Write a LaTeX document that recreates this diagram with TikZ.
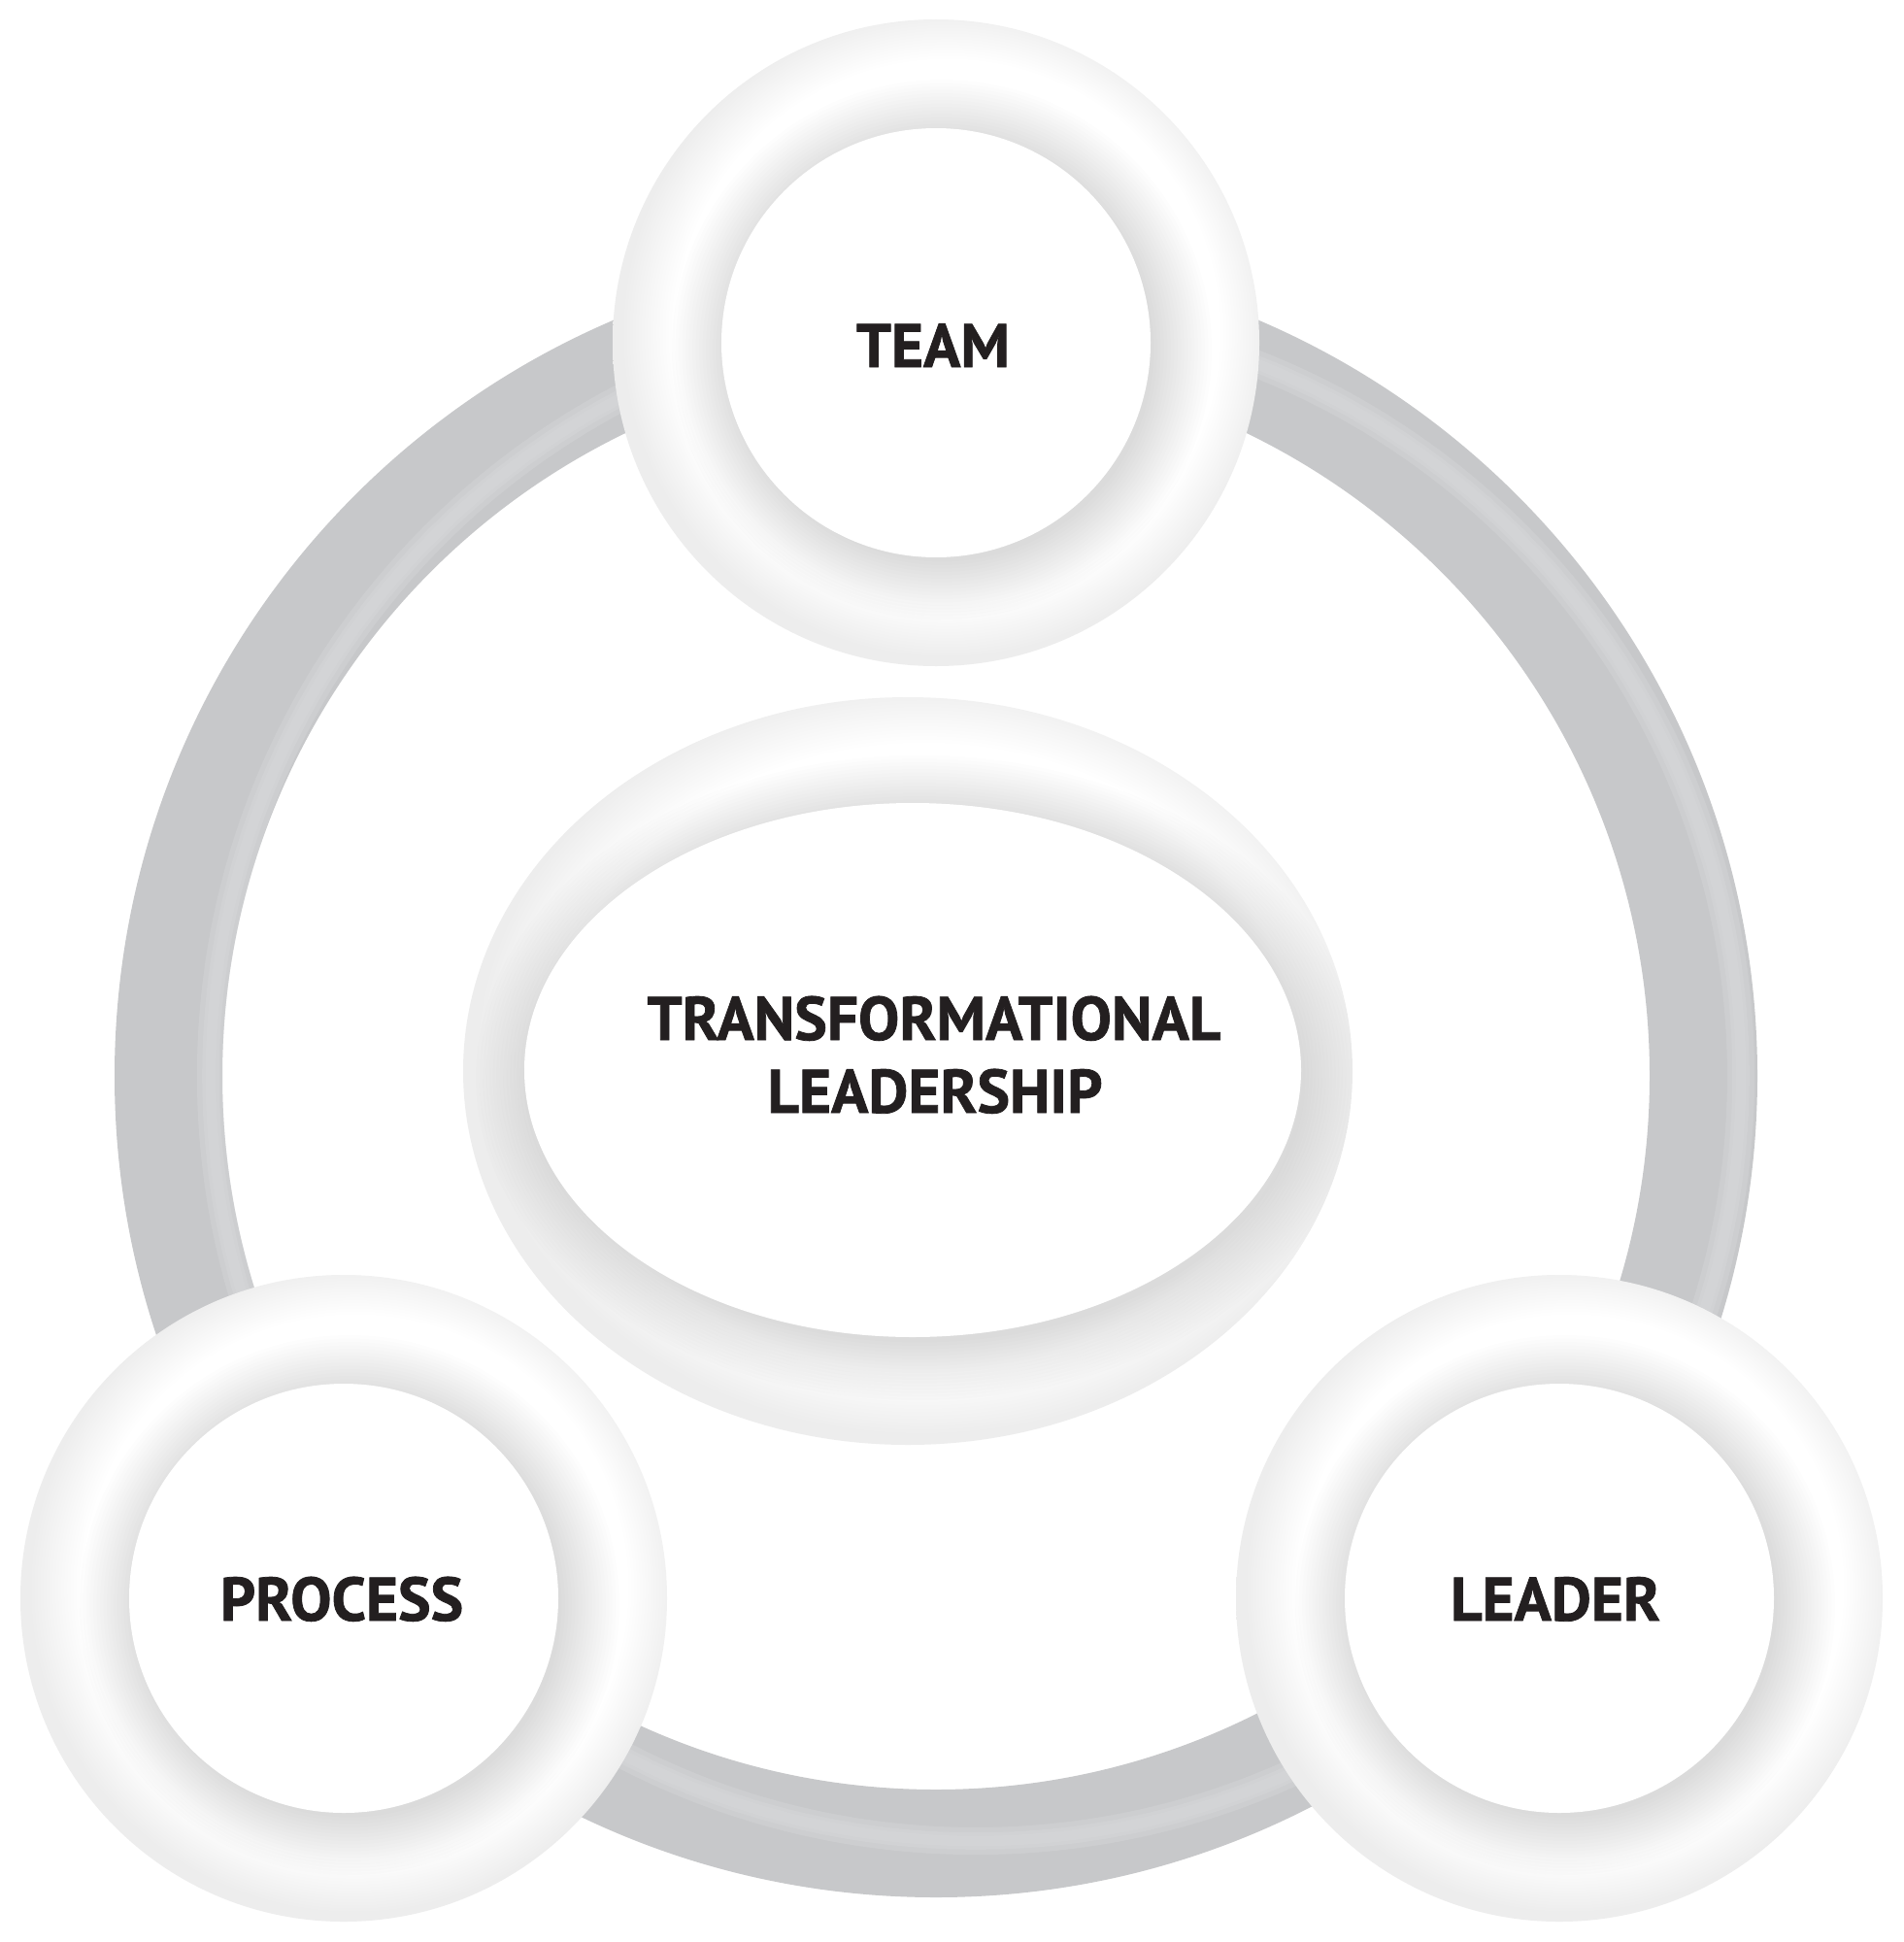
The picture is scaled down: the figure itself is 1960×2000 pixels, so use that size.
\documentclass[tikz,border=0pt]{standalone}
\usepackage{fontspec}
\setmainfont{PT Sans}[BoldFeatures={FakeBold=1.2}]
\usetikzlibrary{calc}
\definecolor{ringgray}{HTML}{C7C8CA}
\definecolor{ringhi}{HTML}{D9DADC}
\definecolor{txt}{HTML}{231F20}
\pgfdeclareradialshading{rimshade}{\pgfpoint{1.5bp}{1.5bp}}{color(0bp)=(white); color(21bp)=(white); color(25bp)=(black!7); color(50bp)=(black!7)}
\tikzset{
  lbl/.style={font=\bfseries\fontsize{18}{21}\selectfont, text=txt, anchor=base, inner sep=0pt},
  shadowlayer/.style={fill=black, fill opacity=0.0085},
  hilayer/.style={draw=ringhi, draw opacity=0.35},
}
\newcommand{\circdonut}[2]{%
  \shade[shading=rimshade] (#1,#2) circle[radius=333];
  \begin{scope}
    \clip (#1,#2) circle[radius=333];
    \foreach \i in {1,...,18}{\fill[shadowlayer] (#1+6,#2+7) circle[radius=215+3.5*\i];}
  \end{scope}
  \fill[white] (#1,#2) circle[radius=221];
}
\begin{document}
\begin{tikzpicture}[x=0.01cm,y=-0.01cm]
  \fill[white] (0,0) rectangle (1960,2000);
  \path[use as bounding box] (0,0) rectangle (1960,2000);
  % big grey ring
  \fill[ringgray, even odd rule] (964,1108) circle[radius=846] (964,1108) circle[radius=735];
  \begin{scope}[even odd rule]
    \clip (964,1108) circle[radius=846] (964,1108) circle[radius=735];
    \foreach \w in {8pt,5pt,3pt}{\draw[hilayer, line width=\w] (1005,1108) circle[radius=788];}
  \end{scope}
  % central ellipse
  \shade[shading=rimshade] (935,1103) ellipse[x radius=458, y radius=385];
  \begin{scope}
    \clip (935,1103) ellipse[x radius=458, y radius=385];
    \foreach \i in {1,...,18}{\fill[shadowlayer] (947,1110) ellipse[x radius=394+3.5*\i, y radius=269+3.5*\i];}
  \end{scope}
  \fill[white] (940,1102) ellipse[x radius=400, y radius=275];
  % satellite circles
  \circdonut{964}{353}
  \circdonut{354}{1646}
  \circdonut{1606}{1646}
  % labels
  \node[lbl] (team) at (961,378) {TEAM};
  \node[lbl] (tl1) at (962,1071) {TRANSFORMATIONAL};
  \node[lbl] (tl2) at (963,1146) {LEADERSHIP};
  \node[lbl] (process) at (352,1669) {PROCESS};
  \node[lbl] (leader) at (1602,1669) {LEADER};
\end{tikzpicture}
\end{document}
